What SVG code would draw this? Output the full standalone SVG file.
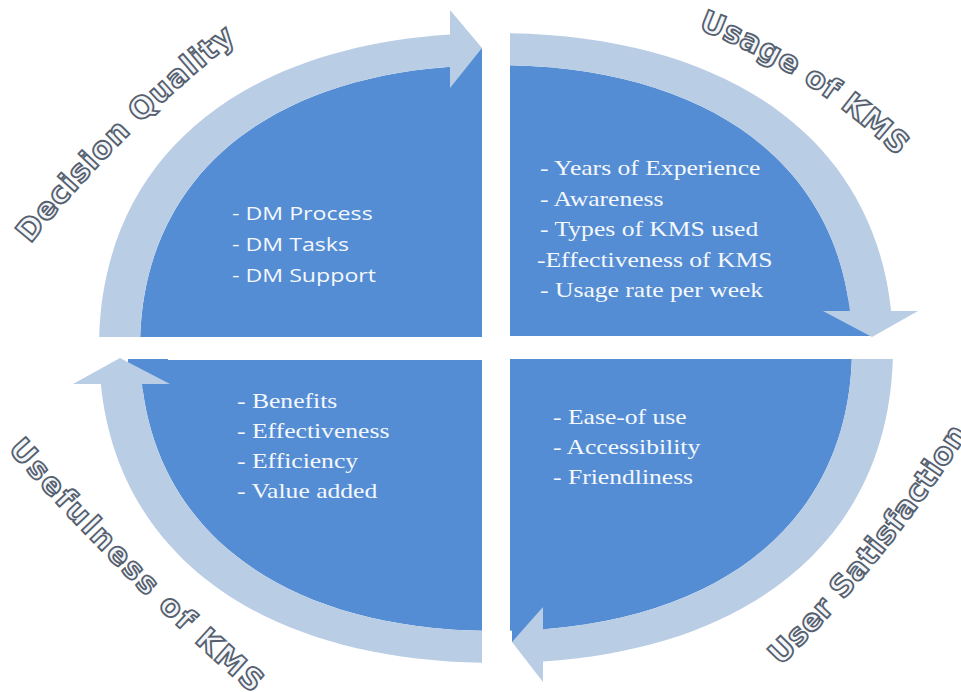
<svg xmlns="http://www.w3.org/2000/svg" width="961" height="692" viewBox="0 0 961 692">
<style>
.dark{fill:#548dd4}
.band{fill:#b9cde5;fill-rule:evenodd}
.arrow{fill:#b9cde5}
.sans{font-family:"Open Sans","Liberation Sans",sans-serif;font-size:19px;fill:#f5f8fc}
.serif{font-family:"Liberation Serif","Times New Roman",serif;font-size:21px;fill:#f5f8fc}
.lbl{font-family:"DejaVu Sans","Liberation Sans",sans-serif;font-weight:bold;font-size:30px;fill:#f2f6fb;stroke:#56606e;stroke-width:1.8}
</style>
<defs>
<path id="inner" d="M 140,348 C 140,172.5 275.3,65 496,65 C 716.7,65 852,172.5 852,348 C 852,523.5 716.7,631 496,631 C 275.3,631 140,523.5 140,348 Z"/>
<path id="ring" d="M 99,348 C 99,152.7 249.9,33 496,33 C 742.1,33 893,152.7 893,348 C 893,543.3 742.1,663 496,663 C 249.9,663 99,543.3 99,348 Z M 140,348 C 140,172.5 275.3,65 496,65 C 716.7,65 852,172.5 852,348 C 852,523.5 716.7,631 496,631 C 275.3,631 140,523.5 140,348 Z"/>
<clipPath id="cTL"><rect x="0" y="0" width="482" height="337"/></clipPath>
<clipPath id="cTR"><rect x="510" y="0" width="451" height="336"/></clipPath>
<clipPath id="cBR"><rect x="510" y="359" width="451" height="333"/></clipPath>
<clipPath id="cBL"><rect x="0" y="360" width="482" height="332"/></clipPath>
<clipPath id="bTL"><rect x="0" y="0" width="450" height="337"/></clipPath>
<clipPath id="bTR"><rect x="510" y="0" width="451" height="311"/></clipPath>
<clipPath id="bBR"><rect x="543" y="359" width="418" height="333"/></clipPath>
<clipPath id="bBL"><rect x="0" y="384" width="482" height="308"/></clipPath>
<path id="pDQ" d="M 31,243 Q 124,128 236,40"/>
<path id="pUK" d="M 700,30 Q 809,72 896,155"/>
<path id="pUS" d="M 781,666 Q 888,560 968,433"/>
<path id="pUF" d="M 8.4,450.5 Q 134,592 253,694"/>
</defs>
<rect width="961" height="692" fill="#ffffff"/>

<g id="decision-quality">
<use href="#inner" class="dark" clip-path="url(#cTL)"/>
<rect class="dark" x="450" y="48" width="32" height="32"/>
<text class="sans" transform="translate(232,220) scale(1.22,1)"><tspan x="0" y="0">- DM Process</tspan><tspan x="0" y="31">- DM Tasks</tspan><tspan x="0" y="62">- DM Support</tspan></text>
<text class="lbl" letter-spacing="1"><textPath href="#pDQ" startOffset="50%" text-anchor="middle">Decision Quality</textPath></text>
</g>

<g id="usage-of-kms">
<use href="#inner" class="dark" clip-path="url(#cTR)"/>
<rect class="dark" x="840" y="300" width="32" height="36"/>
<text class="serif" transform="translate(540,175) scale(1.22,1)"><tspan x="0" y="0">- Years of Experience</tspan><tspan x="0" y="31">- Awareness</tspan><tspan x="0" y="61">- Types of KMS used</tspan><tspan x="-2.5" y="92">-Effectiveness of KMS</tspan><tspan x="0" y="122">- Usage rate per week</tspan></text>
<text class="lbl" letter-spacing="0.4"><textPath href="#pUK" startOffset="50%" text-anchor="middle">Usage of KMS</textPath></text>
</g>

<g id="user-satisfaction">
<use href="#inner" class="dark" clip-path="url(#cBR)"/>
<rect class="dark" x="512" y="615" width="36" height="27"/>
<text class="serif" transform="translate(553,424) scale(1.22,1)"><tspan x="0" y="0">- Ease-of use</tspan><tspan x="0" y="30">- Accessibility</tspan><tspan x="0" y="60">- Friendliness</tspan></text>
<text class="lbl" letter-spacing="0.6"><textPath href="#pUS" startOffset="50%" text-anchor="middle">User Satisfaction</textPath></text>
</g>

<g id="usefulness-of-kms">
<use href="#inner" class="dark" clip-path="url(#cBL)"/>
<rect class="dark" x="128" y="359" width="40" height="30"/>
<text class="serif" transform="translate(237,408) scale(1.22,1)"><tspan x="0" y="0">- Benefits</tspan><tspan x="0" y="30">- Effectiveness</tspan><tspan x="0" y="60">- Efficiency</tspan><tspan x="0" y="90">- Value added</tspan></text>
<text class="lbl" letter-spacing="2"><textPath href="#pUF" startOffset="50%" text-anchor="middle">Usefulness of KMS</textPath></text>
</g>

<g id="connectors">
<use href="#ring" class="band" clip-path="url(#bTL)"/>
<polygon class="arrow" points="450,10 482,48 450,88"/>
<use href="#ring" class="band" clip-path="url(#bTR)"/>
<polygon class="arrow" points="823,311 918,311 872,337"/>
<use href="#ring" class="band" clip-path="url(#bBR)"/>
<polygon class="arrow" points="543,607 512,642 543,682"/>
<use href="#ring" class="band" clip-path="url(#bBL)"/>
<polygon class="arrow" points="73,384 120,358 170,384"/>
</g>
</svg>
